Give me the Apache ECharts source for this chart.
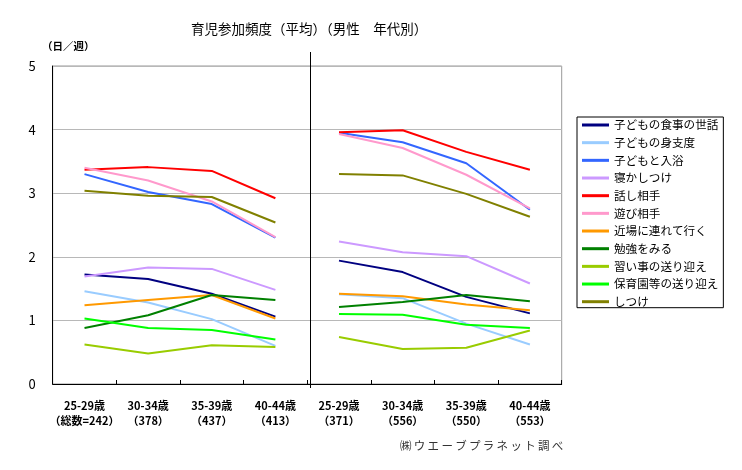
<!DOCTYPE html>
<html>
<head>
<meta charset="utf-8">
<script src="https://cdn.jsdelivr.net/npm/echarts@6/dist/echarts.min.js"></script>
<style>
html,body{margin:0;padding:0;background:#fff;}
#c{width:742px;height:470px;}
</style>
</head>
<body>
<div id="c"></div>
<script>
// Categories: left panel (4 age groups) and right panel (4 age groups)
const categories = [
  '25-29歳\n（総数=242）', '30-34歳\n（378）', '35-39歳\n（437）', '40-44歳\n（413）',
  '25-29歳\n（371）', '30-34歳\n（556）', '35-39歳\n（550）', '40-44歳\n（553）'
];
const yTicks = [0, 1, 2, 3, 4, 5];

// Series names (legend order)
const seriesNames = [
  '子どもの食事の世話', '子どもの身支度', '子どもと入浴', '寝かしつけ', '話し相手', '遊び相手',
  '近場に連れて行く', '勉強をみる', '習い事の送り迎え', '保育園等の送り迎え', 'しつけ'
];

// Values: first 4 = left panel, last 4 = right panel (days per week)
const shokuji   = [1.72, 1.65, 1.42, 1.06,   1.94, 1.76, 1.37, 1.11];
const mijitaku  = [1.46, 1.28, 1.02, 0.60,   1.41, 1.35, 0.95, 0.62];
const nyuyoku   = [3.30, 3.02, 2.83, 2.30,   3.95, 3.80, 3.47, 2.74];
const nekashi   = [1.69, 1.83, 1.81, 1.48,   2.24, 2.07, 2.01, 1.58];
const hanashi   = [3.37, 3.41, 3.35, 2.92,   3.96, 3.99, 3.65, 3.37];
const asobi     = [3.40, 3.20, 2.87, 2.31,   3.93, 3.71, 3.29, 2.76];
const chikaba   = [1.24, 1.32, 1.40, 1.03,   1.42, 1.38, 1.25, 1.16];
const benkyo    = [0.88, 1.08, 1.40, 1.32,   1.21, 1.29, 1.40, 1.30];
const naraigoto = [0.62, 0.48, 0.61, 0.58,   0.74, 0.55, 0.57, 0.84];
const hoikuen   = [1.03, 0.88, 0.85, 0.70,   1.10, 1.09, 0.93, 0.88];
const shitsuke  = [3.04, 2.96, 2.94, 2.54,   3.30, 3.28, 2.99, 2.63];

const allValues = [shokuji, mijitaku, nyuyoku, nekashi, hanashi, asobi, chikaba, benkyo, naraigoto, hoikuen, shitsuke];
const colors = ['#000080', '#99CCFF', '#3366FF', '#CC99FF', '#FF0000', '#FF99CC',
                '#FF9900', '#008000', '#99CC00', '#00FF00', '#808000'];

const FONT = '"Noto Sans CJK JP", "Noto Sans", sans-serif';

const series = [];
allValues.forEach((vals, i) => {
  const left = vals.map((v, k) => k < 4 ? v : null);
  const right = vals.map((v, k) => k >= 4 ? v : null);
  [left, right].forEach(d => {
    series.push({
      name: seriesNames[i],
      type: 'line',
      data: d,
      symbol: 'none',
      connectNulls: false,
      color: colors[i],
      lineStyle: { width: 2, color: colors[i] },
      z: 2
    });
  });
});

const chart = echarts.init(document.getElementById('c'), null, { renderer: 'canvas' });
chart.setOption({
  animation: false,
  backgroundColor: '#fff',
  textStyle: { fontFamily: FONT },
  title: [
    { text: '育児参加頻度（平均）（男性　年代別）', left: 191, top: 22, padding: 0,
      textStyle: { fontSize: 13.5, fontWeight: 'normal', color: '#000', fontFamily: FONT } },
    { text: '（日／週）', left: 42, top: 41, padding: 0,
      textStyle: { fontSize: 10.5, fontWeight: 'bold', color: '#000', fontFamily: FONT } },
    { text: '㈱\u2009ウ\u2009エ\u2009ー\u2009ブ\u2009プ\u2009ラ\u2009ネ\u2009ッ\u2009ト\u2009調\u2009べ', left: 400, top: 440, padding: 0,
      textStyle: { fontSize: 11.5, fontWeight: 'normal', color: '#333', fontFamily: FONT } }
  ],
  grid: { left: 52.7, right: 180.3, top: 66, bottom: 86, show: true, borderColor: '#999', borderWidth: 1 },
  legend: {
    data: seriesNames,
    orient: 'vertical',
    left: 577, top: 117,
    padding: [2, 5, 0, 5],
    itemGap: 5.67,
    itemWidth: 27, itemHeight: 3,
    icon: 'rect',
    borderColor: '#000', borderWidth: 1,
    textStyle: { fontSize: 11.6, color: '#000', fontFamily: FONT, lineHeight: 12 }
  },
  xAxis: {
    type: 'category',
    data: categories,
    boundaryGap: true,
    axisLine: { show: true, lineStyle: { color: '#000', width: 1 } },
    axisTick: { show: true, inside: true, length: 4, interval: 0, lineStyle: { color: '#000' } },
    axisLabel: { interval: 0, margin: 14, fontSize: 11, fontWeight: 'bold', color: '#000', lineHeight: 15, fontFamily: FONT },
    splitLine: { show: false }
  },
  yAxis: {
    type: 'value',
    min: yTicks[0], max: yTicks[yTicks.length - 1], interval: 1,
    axisLine: { show: true, lineStyle: { color: '#000', width: 1 } },
    axisTick: { show: false },
    axisLabel: { fontSize: 13, color: '#000', margin: 17, fontFamily: FONT },
    splitLine: { show: true, lineStyle: { color: '#b8b8b8', width: 1 } }
  },
  series: series
});

// Panel separator line between the two groups of categories
const xa = chart.convertToPixel({ xAxisIndex: 0 }, 3);
const xb = chart.convertToPixel({ xAxisIndex: 0 }, 4);
const yTop = chart.convertToPixel({ yAxisIndex: 0 }, yTicks[yTicks.length - 1]);
const yBot = chart.convertToPixel({ yAxisIndex: 0 }, yTicks[0]);
const sepX = Math.round((xa + xb) / 2) + 3.5;
chart.setOption({
  graphic: [{
    type: 'line',
    shape: { x1: sepX, y1: yTop - 14, x2: sepX, y2: yBot + 4 },
    style: { stroke: '#000', lineWidth: 1 },
    z: 10
  }]
});
</script>
</body>
</html>
